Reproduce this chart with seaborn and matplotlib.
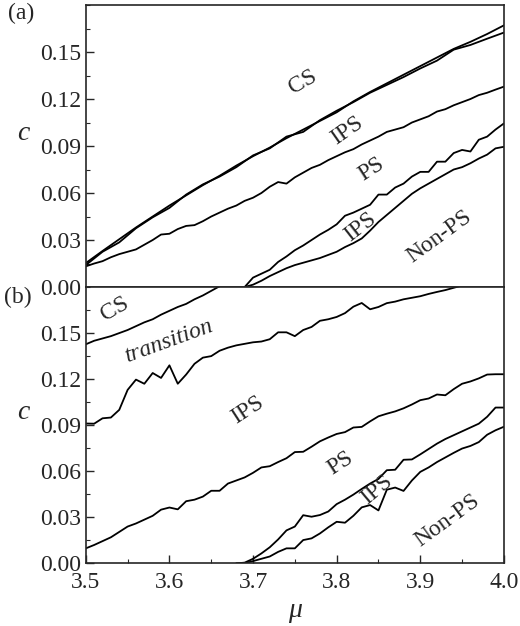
import numpy as np
import matplotlib
matplotlib.use("Agg")
import matplotlib.pyplot as plt
from matplotlib.ticker import MultipleLocator
import seaborn as sns

# ---- data ----
# panel (a): two nearly coincident CS boundaries (0.02 step)
mu_cs_a = [3.50, 3.52, 3.54, 3.56, 3.58, 3.60, 3.62, 3.64, 3.66, 3.68, 3.70, 3.72, 3.74,
           3.76, 3.78, 3.80, 3.82, 3.84, 3.86, 3.88, 3.90, 3.92, 3.94, 3.96, 3.98, 4.00]
cs_a1 = [0.0153, 0.0230, 0.0305, 0.0380, 0.0450, 0.0520, 0.0585, 0.0650, 0.0710, 0.0775,
         0.0835, 0.0890, 0.0950, 0.1005, 0.1060, 0.1115, 0.1185, 0.1245, 0.1300, 0.1355,
         0.1410, 0.1465, 0.1520, 0.1565, 0.1615, 0.1670]
cs_a2 = [0.0140, 0.0225, 0.0285, 0.0375, 0.0445, 0.0505, 0.0590, 0.0655, 0.0705, 0.0765,
         0.0840, 0.0885, 0.0960, 0.0990, 0.1065, 0.1125, 0.1180, 0.1240, 0.1290, 0.1340,
         0.1395, 0.1445, 0.1515, 0.1545, 0.1585, 0.1624]

# 0.01 step grids
mu_full = [round(3.50 + 0.01 * i, 2) for i in range(51)]
ps_up_a = [0.0132, 0.0150, 0.0165, 0.0190, 0.0210, 0.0225, 0.0240, 0.0270, 0.0300, 0.0335,
           0.0340, 0.0370, 0.0390, 0.0395, 0.0420, 0.0450, 0.0475, 0.0500, 0.0520, 0.0550,
           0.0570, 0.0600, 0.0640, 0.0670, 0.0660, 0.0700, 0.0730, 0.0760, 0.0780, 0.0810,
           0.0835, 0.0860, 0.0880, 0.0910, 0.0935, 0.0960, 0.0990, 0.1005, 0.1020, 0.1050,
           0.1070, 0.1090, 0.1120, 0.1135, 0.1160, 0.1180, 0.1200, 0.1225, 0.1240, 0.1260,
           0.1279]

mu_low_a = [3.69, 3.70, 3.71, 3.72, 3.73, 3.74, 3.75, 3.76, 3.77, 3.78, 3.79, 3.80, 3.81,
            3.82, 3.83, 3.84, 3.85, 3.86, 3.87, 3.88, 3.89, 3.90, 3.91, 3.92, 3.93, 3.94,
            3.95, 3.96, 3.97, 3.98, 3.99, 4.00]
ps_low_a = [0.0, 0.0060, 0.0085, 0.0110, 0.0160, 0.0195, 0.0235, 0.0265, 0.0300, 0.0335,
            0.0365, 0.0400, 0.0455, 0.0475, 0.0500, 0.0525, 0.0590, 0.0590, 0.0635, 0.0660,
            0.0705, 0.0735, 0.0735, 0.0800, 0.0800, 0.0855, 0.0875, 0.0865, 0.0940, 0.0960,
            0.1005, 0.1044]
nonps_a = [0.0, 0.0015, 0.0040, 0.0070, 0.0095, 0.0120, 0.0140, 0.0155, 0.0170, 0.0185,
           0.0205, 0.0225, 0.0255, 0.0280, 0.0310, 0.0360, 0.0415, 0.0460, 0.0505, 0.0550,
           0.0595, 0.0630, 0.0660, 0.0690, 0.0720, 0.0750, 0.0765, 0.0790, 0.0820, 0.0845,
           0.0885, 0.0895]

# panel (b)
mu_cs_b = [3.50, 3.51, 3.52, 3.53, 3.54, 3.55, 3.56, 3.57, 3.58, 3.59, 3.60, 3.61, 3.62,
           3.63, 3.64, 3.65, 3.66]
cs_b = [0.1427, 0.1450, 0.1465, 0.1480, 0.1500, 0.1520, 0.1545, 0.1570, 0.1590, 0.1620,
        0.1645, 0.1670, 0.1690, 0.1720, 0.1745, 0.1775, 0.1805]

mu_tr_b = mu_full[:46]
tr_b = [0.0911, 0.0910, 0.0945, 0.0950, 0.1000, 0.1130, 0.1197, 0.1170, 0.1240, 0.1208,
        0.1290, 0.1170, 0.1230, 0.1300, 0.1340, 0.1350, 0.1385, 0.1405, 0.1420, 0.1430,
        0.1440, 0.1445, 0.1460, 0.1505, 0.1505, 0.1480, 0.1520, 0.1540, 0.1580, 0.1590,
        0.1605, 0.1630, 0.1672, 0.1696, 0.1655, 0.1670, 0.1695, 0.1705, 0.1720, 0.1730,
        0.1740, 0.1755, 0.1768, 0.1780, 0.1795, 0.1810]

ps_up_b = [0.0098, 0.0120, 0.0145, 0.0170, 0.0205, 0.0240, 0.0260, 0.0285, 0.0310, 0.0350,
           0.0364, 0.0352, 0.0405, 0.0415, 0.0435, 0.0473, 0.0473, 0.0520, 0.0540, 0.0560,
           0.0590, 0.0625, 0.0633, 0.0660, 0.0685, 0.0725, 0.0727, 0.0760, 0.0795, 0.0820,
           0.0843, 0.0855, 0.0885, 0.0889, 0.0925, 0.0958, 0.0975, 0.0990, 0.1010, 0.1035,
           0.1063, 0.1074, 0.1100, 0.1095, 0.1135, 0.1170, 0.1185, 0.1205, 0.1230, 0.1232,
           0.1232]

mu_low_b = [3.68] + mu_low_a
ps_low_b = [0.0, 0.0005, 0.0030, 0.0065, 0.0105, 0.0156, 0.0215, 0.0240, 0.0314, 0.0304,
            0.0315, 0.0338, 0.0386, 0.0415, 0.0448, 0.0485, 0.0520, 0.0550, 0.0607, 0.0610,
            0.0675, 0.0677, 0.0710, 0.0745, 0.0780, 0.0810, 0.0835, 0.0860, 0.0885, 0.0910,
            0.0955, 0.1015, 0.1015]
nonps_b = [0.0, 0.0, 0.0015, 0.0030, 0.0045, 0.0075, 0.0098, 0.0098, 0.0152, 0.0163,
           0.0195, 0.0235, 0.0271, 0.0265, 0.0310, 0.0365, 0.0380, 0.0345, 0.0480, 0.0494,
           0.0472, 0.0540, 0.0596, 0.0625, 0.0660, 0.0690, 0.0720, 0.0748, 0.0765, 0.0790,
           0.0838, 0.0867, 0.0890]

# region labels: (text, mu, c, rotation, italic)
labels_a = [("CS", 3.76, 0.131, 30, False), ("IPS", 3.812, 0.100, 35, False),
            ("PS", 3.842, 0.075, 33, False), ("IPS", 3.828, 0.038, 38, False),
            ("Non-PS", 3.923, 0.032, 36, False)]
labels_b = [("CS", 3.535, 0.166, 30, False), ("transition", 3.60, 0.145, 20, True),
            ("IPS", 3.694, 0.0998, 33, False), ("PS", 3.804, 0.065, 33, False),
            ("IPS", 3.848, 0.0477, 40, False), ("Non-PS", 3.932, 0.028, 36, False)]

# ---- plotting ----
sns.set_style("ticks")
plt.rcParams['font.family'] = ['Liberation Serif', 'DejaVu Serif']

fig = plt.figure(figsize=(5.2, 6.26), dpi=100)
ax_a = fig.add_axes([0.165, 0.5415, 0.804, 0.4505])
ax_b = fig.add_axes([0.165, 0.100, 0.804, 0.4415], sharex=ax_a)

kw = dict(color="black", linewidth=1.3, estimator=None, sort=False, legend=False)
sns.lineplot(x=mu_cs_a, y=cs_a1, ax=ax_a, **kw)
sns.lineplot(x=mu_cs_a, y=cs_a2, ax=ax_a, **kw)
sns.lineplot(x=mu_full, y=ps_up_a, ax=ax_a, **kw)
sns.lineplot(x=mu_low_a, y=ps_low_a, ax=ax_a, **kw)
sns.lineplot(x=mu_low_a, y=nonps_a, ax=ax_a, **kw)

sns.lineplot(x=mu_cs_b, y=cs_b, ax=ax_b, **kw)
sns.lineplot(x=mu_tr_b, y=tr_b, ax=ax_b, **kw)
sns.lineplot(x=mu_full, y=ps_up_b, ax=ax_b, **kw)
sns.lineplot(x=mu_low_b, y=ps_low_b, ax=ax_b, **kw)
sns.lineplot(x=mu_low_b, y=nonps_b, ax=ax_b, **kw)

for ax, labs in ((ax_a, labels_a), (ax_b, labels_b)):
    ax.set_xlim(3.5, 4.0)
    ax.set_ylim(0, 0.18)
    ax.xaxis.set_major_locator(MultipleLocator(0.1))
    ax.xaxis.set_minor_locator(MultipleLocator(0.05))
    ax.yaxis.set_minor_locator(MultipleLocator(0.015))
    ax.set_yticks([0.0, 0.03, 0.06, 0.09, 0.12, 0.15])
    ax.set_yticklabels(["0.00", "0.03", "0.06", "0.09", "0.12", "0.15"])
    ax.tick_params(which="major", direction="in", length=6, width=1, labelsize=17)
    ax.tick_params(which="minor", direction="in", length=3, width=0.8)
    for s in ax.spines.values():
        s.set_linewidth(1.2)
        s.set_visible(True)
    ax.set_ylabel("c", fontsize=20, fontstyle="italic", rotation=0, labelpad=12)
    ax.set_xlabel("")
    for t, x, y, r, it in labs:
        ax.text(x, y, t, fontsize=17, rotation=r, ha="center", va="center",
                fontstyle="italic" if it else "normal")

ax_a.tick_params(axis="x", which="both", bottom=False, labelbottom=False)
ax_b.tick_params(axis="x", which="major", pad=6)
ax_b.set_xlabel("μ", fontsize=20, fontstyle="italic", labelpad=4)

fig.text(0.04, 0.978, "(a)", fontsize=17, ha="center", va="center")
fig.text(0.035, 0.525, "(b)", fontsize=17, ha="center", va="center")

fig.savefig("out.png", dpi=100)
